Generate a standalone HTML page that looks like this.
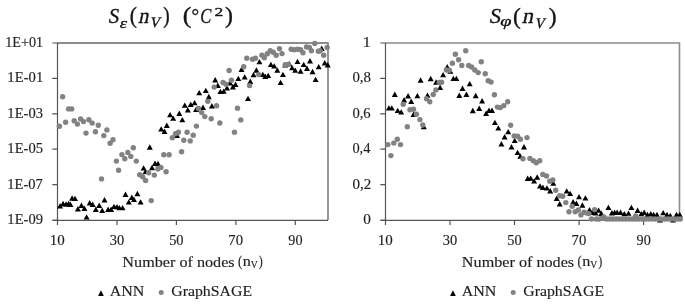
<!DOCTYPE html><html><head><meta charset="utf-8"><style>html,body{margin:0;padding:0;background:#fff;}svg{display:block}#w{filter:grayscale(1)}</style></head><body>
<div id="w"><svg width="685" height="305" viewBox="0 0 685 305" style="font-family:'Liberation Serif',serif">
<rect width="685" height="305" fill="#fff"/>
<path d="M57.5 43.0H328.0V220.0" fill="none" stroke="#8c8c8c" stroke-width="1.8"/><path d="M57.5 42.5V225.0M52.3 220.4H328.0M57.5 220.4V225.0M117.0 220.4V225.0M176.4 220.4V225.0M235.9 220.4V225.0M295.3 220.4V225.0M52.3 43.0H57.5M52.3 78.4H57.5M52.3 113.8H57.5M52.3 149.2H57.5M52.3 184.6H57.5M52.3 220.0H57.5" fill="none" stroke="#555" stroke-width="1.2"/>
<path d="M385.5 43.0H679.5V220.0" fill="none" stroke="#8c8c8c" stroke-width="1.6"/><path d="M385.5 42.5V225.0M380.3 220.4H679.5M385.5 220.4V225.0M450.0 220.4V225.0M514.5 220.4V225.0M579.1 220.4V225.0M643.6 220.4V225.0M380.3 43.0H385.5M380.3 78.4H385.5M380.3 113.8H385.5M380.3 149.2H385.5M380.3 184.6H385.5M380.3 220.0H385.5" fill="none" stroke="#555" stroke-width="1.2"/>
<text transform="translate(5.18 46.90) scale(0.977 1)" font-size="14.5" fill="#1e1e1e"  stroke="#1e1e1e" stroke-width="0.15">1E+01</text>
<text transform="translate(7.33 82.30) scale(1.014 1)" font-size="14.5" fill="#1e1e1e"  stroke="#1e1e1e" stroke-width="0.15">1E-01</text>
<text transform="translate(7.34 117.70) scale(1.006 1)" font-size="14.5" fill="#1e1e1e"  stroke="#1e1e1e" stroke-width="0.15">1E-03</text>
<text transform="translate(7.34 153.10) scale(1.006 1)" font-size="14.5" fill="#1e1e1e"  stroke="#1e1e1e" stroke-width="0.15">1E-05</text>
<text transform="translate(7.35 188.50) scale(0.999 1)" font-size="14.5" fill="#1e1e1e"  stroke="#1e1e1e" stroke-width="0.15">1E-07</text>
<text transform="translate(7.34 223.90) scale(1.006 1)" font-size="14.5" fill="#1e1e1e"  stroke="#1e1e1e" stroke-width="0.15">1E-09</text>
<text transform="translate(362.82 46.90) scale(1.105 1)" font-size="14.5" fill="#1e1e1e"  stroke="#1e1e1e" stroke-width="0.15">1</text>
<text transform="translate(352.39 82.30) scale(1.024 1)" font-size="14.5" fill="#1e1e1e"  stroke="#1e1e1e" stroke-width="0.15">0,8</text>
<text transform="translate(352.40 117.70) scale(1.009 1)" font-size="14.5" fill="#1e1e1e"  stroke="#1e1e1e" stroke-width="0.15">0,6</text>
<text transform="translate(352.40 153.10) scale(0.994 1)" font-size="14.5" fill="#1e1e1e"  stroke="#1e1e1e" stroke-width="0.15">0,4</text>
<text transform="translate(352.38 188.50) scale(1.039 1)" font-size="14.5" fill="#1e1e1e"  stroke="#1e1e1e" stroke-width="0.15">0,2</text>
<text transform="translate(363.17 223.90) scale(1.056 1)" font-size="14.5" fill="#1e1e1e"  stroke="#1e1e1e" stroke-width="0.15">0</text>
<text transform="translate(49.71 244.60) scale(1.035 1)" font-size="14.5" fill="#1e1e1e"  stroke="#1e1e1e" stroke-width="0.15">10</text>
<text transform="translate(109.70 244.60) scale(0.996 1)" font-size="14.5" fill="#1e1e1e"  stroke="#1e1e1e" stroke-width="0.15">30</text>
<text transform="translate(169.15 244.60) scale(0.996 1)" font-size="14.5" fill="#1e1e1e"  stroke="#1e1e1e" stroke-width="0.15">50</text>
<text transform="translate(228.33 244.60) scale(1.015 1)" font-size="14.5" fill="#1e1e1e"  stroke="#1e1e1e" stroke-width="0.15">70</text>
<text transform="translate(288.31 244.60) scale(0.978 1)" font-size="14.5" fill="#1e1e1e"  stroke="#1e1e1e" stroke-width="0.15">90</text>
<text transform="translate(377.71 244.60) scale(1.035 1)" font-size="14.5" fill="#1e1e1e"  stroke="#1e1e1e" stroke-width="0.15">10</text>
<text transform="translate(442.77 244.60) scale(0.996 1)" font-size="14.5" fill="#1e1e1e"  stroke="#1e1e1e" stroke-width="0.15">30</text>
<text transform="translate(507.29 244.60) scale(0.996 1)" font-size="14.5" fill="#1e1e1e"  stroke="#1e1e1e" stroke-width="0.15">50</text>
<text transform="translate(571.54 244.60) scale(1.015 1)" font-size="14.5" fill="#1e1e1e"  stroke="#1e1e1e" stroke-width="0.15">70</text>
<text transform="translate(636.59 244.60) scale(0.978 1)" font-size="14.5" fill="#1e1e1e"  stroke="#1e1e1e" stroke-width="0.15">90</text>
<text transform="translate(122.36 266.50) scale(1.079 1)" font-size="15" fill="#1e1e1e"  stroke="#1e1e1e" stroke-width="0.15">Number of nodes</text>
<text transform="translate(237.96 266.35) scale(0.853 1)" font-size="15" fill="#1e1e1e"  stroke="#1e1e1e" stroke-width="0.15">(</text>
<text transform="translate(242.84 266.40) scale(1.048 1)" font-size="15.5" fill="#1e1e1e"  stroke="#1e1e1e" stroke-width="0.15">n</text>
<text transform="translate(250.75 268.10) scale(1.015 1)" font-size="9.5" fill="#1e1e1e"  stroke="#1e1e1e" stroke-width="0.15">V</text>
<text transform="translate(258.80 266.35) scale(0.800 1)" font-size="15" fill="#1e1e1e"  stroke="#1e1e1e" stroke-width="0.15">)</text>
<text transform="translate(461.86 266.50) scale(1.079 1)" font-size="15" fill="#1e1e1e"  stroke="#1e1e1e" stroke-width="0.15">Number of nodes</text>
<text transform="translate(577.46 266.35) scale(0.853 1)" font-size="15" fill="#1e1e1e"  stroke="#1e1e1e" stroke-width="0.15">(</text>
<text transform="translate(582.34 266.40) scale(1.048 1)" font-size="15.5" fill="#1e1e1e"  stroke="#1e1e1e" stroke-width="0.15">n</text>
<text transform="translate(590.25 268.10) scale(1.015 1)" font-size="9.5" fill="#1e1e1e"  stroke="#1e1e1e" stroke-width="0.15">V</text>
<text transform="translate(598.30 266.35) scale(0.800 1)" font-size="15" fill="#1e1e1e"  stroke="#1e1e1e" stroke-width="0.15">)</text>
<text transform="translate(109.63 296.40) scale(1.066 1)" font-size="15" fill="#1e1e1e"  stroke="#1e1e1e" stroke-width="0.15">ANN</text>
<text transform="translate(171.27 296.40) scale(1.054 1)" font-size="15" fill="#1e1e1e"  stroke="#1e1e1e" stroke-width="0.15">GraphSAGE</text>
<text transform="translate(461.63 296.40) scale(1.066 1)" font-size="15" fill="#1e1e1e"  stroke="#1e1e1e" stroke-width="0.15">ANN</text>
<text transform="translate(523.27 296.40) scale(1.054 1)" font-size="15" fill="#1e1e1e"  stroke="#1e1e1e" stroke-width="0.15">GraphSAGE</text>
<text transform="translate(108.86 22.70) scale(0.970 1)" font-size="21.5" font-style="italic" fill="#141414"  stroke="#141414" stroke-width="0.35">S</text>
<text transform="translate(119.87 27.50) scale(1.314 1)" font-size="14" font-style="italic" fill="#141414"  stroke="#141414" stroke-width="0.35">ε</text>
<text transform="translate(129.78 23.30) scale(0.917 1)" font-size="23.5" fill="#141414"  stroke="#141414" stroke-width="0.35">(</text>
<text transform="translate(137.93 23.00) skewX(-12) scale(0.939 1)" font-size="22" fill="#141414"  stroke="#141414" stroke-width="0.35">n</text>
<text transform="translate(149.46 27.30) skewX(-12) scale(0.978 1)" font-size="14.5" fill="#141414"  stroke="#141414" stroke-width="0.35">V</text>
<text transform="translate(163.29 23.30) scale(0.817 1)" font-size="23.5" fill="#141414"  stroke="#141414" stroke-width="0.35">)</text>
<text transform="translate(182.70 23.30) scale(1.100 1)" font-size="23.5" fill="#141414"  stroke="#141414" stroke-width="0.35">(</text>
<text transform="translate(191.53 22.45) scale(0.974 1)" font-size="19.5" fill="#141414"  stroke="#141414" stroke-width="0.35">°</text>
<text transform="translate(200.20 23.00) scale(0.800 1)" font-size="20.7" font-style="italic" fill="#141414"  stroke="#141414" stroke-width="0.35">C</text>
<text transform="translate(214.57 16.00) scale(1.453 1)" font-size="12" fill="#141414"  stroke="#141414" stroke-width="0.35">2</text>
<text transform="translate(224.94 23.30) scale(1.017 1)" font-size="23.5" fill="#141414"  stroke="#141414" stroke-width="0.35">)</text>
<text transform="translate(489.64 23.05) scale(1.040 1)" font-size="21.5" font-style="italic" fill="#141414"  stroke="#141414" stroke-width="0.35">S</text>
<text transform="translate(500.17 25.96) scale(1.452 1)" font-size="14" font-style="italic" fill="#141414"  stroke="#141414" stroke-width="0.35">φ</text>
<text transform="translate(513.00 23.60) scale(1.000 1)" font-size="23.5" fill="#141414"  stroke="#141414" stroke-width="0.35">(</text>
<text transform="translate(521.69 23.20) skewX(-12) scale(1.017 1)" font-size="22" fill="#141414"  stroke="#141414" stroke-width="0.35">n</text>
<text transform="translate(534.56 27.50) skewX(-12) scale(0.948 1)" font-size="14.5" fill="#141414"  stroke="#141414" stroke-width="0.35">V</text>
<text transform="translate(548.85 23.60) scale(1.000 1)" font-size="23.5" fill="#141414"  stroke="#141414" stroke-width="0.35">)</text>
<path d="M100.95 290.3L103.8 296L98.1 296Z" fill="#000"/>
<circle cx="161.2" cy="292.6" r="2.5" fill="#828282"/>
<path d="M452.95 290.3L455.8 296L450.1 296Z" fill="#000"/>
<circle cx="513.2" cy="292.6" r="2.5" fill="#828282"/>
<g fill="#000"><path d="M60.1 203.0L63.1 208.4L57.1 208.4ZM63.1 200.8L66.1 206.2L60.1 206.2ZM66.1 201.3L69.1 206.7L63.1 206.7ZM68.6 200.8L71.6 206.2L65.6 206.2ZM70.4 201.5L73.4 206.9L67.4 206.9ZM72.1 195.3L75.1 200.7L69.1 200.7ZM75.0 195.7L78.0 201.1L72.0 201.1ZM77.9 206.0L80.9 211.4L74.9 211.4ZM81.4 202.5L84.4 207.9L78.4 207.9ZM84.4 205.5L87.4 210.9L81.4 210.9ZM86.6 214.2L89.6 219.6L83.6 219.6ZM89.7 200.1L92.7 205.5L86.7 205.5ZM92.7 201.5L95.7 206.9L89.7 206.9ZM95.8 206.5L98.8 211.9L92.8 211.9ZM99.2 202.5L102.2 207.9L96.2 207.9ZM102.2 207.5L105.2 212.9L99.2 212.9ZM104.5 197.1L107.5 202.5L101.5 202.5ZM108.1 206.5L111.1 211.9L105.1 211.9ZM111.1 206.5L114.1 211.9L108.1 211.9ZM114.0 203.7L117.0 209.1L111.0 209.1ZM117.0 203.9L120.0 209.3L114.0 209.3ZM119.4 204.9L122.4 210.3L116.4 210.3ZM122.6 204.9L125.6 210.3L119.6 210.3ZM125.5 191.6L128.5 197.0L122.5 197.0ZM128.8 199.2L131.8 204.6L125.8 204.6ZM131.8 194.6L134.8 200.0L128.8 200.0ZM134.0 196.7L137.0 202.1L131.0 202.1ZM137.4 190.8L140.4 196.2L134.4 196.2ZM140.6 199.2L143.6 204.6L137.6 204.6ZM143.6 165.2L146.6 170.6L140.6 170.6ZM145.6 168.7L148.6 174.1L142.6 174.1ZM149.8 144.3L152.8 149.7L146.8 149.7ZM152.0 164.8L155.0 170.2L149.0 170.2ZM155.0 160.5L158.0 165.9L152.0 165.9ZM158.0 160.8L161.0 166.2L155.0 166.2ZM161.2 126.2L164.2 131.6L158.2 131.6ZM164.5 128.6L167.5 134.0L161.5 134.0ZM166.8 122.5L169.8 127.9L163.8 127.9ZM170.1 111.9L173.1 117.3L167.1 117.3ZM173.2 115.4L176.2 120.8L170.2 120.8ZM177.0 132.5L180.0 137.9L174.0 137.9ZM179.3 110.5L182.3 115.9L176.3 115.9ZM182.3 116.9L185.3 122.3L179.3 122.3ZM184.8 102.4L187.8 107.8L181.8 107.8ZM187.8 107.1L190.8 112.5L184.8 112.5ZM190.7 101.5L193.7 106.9L187.7 106.9ZM194.6 99.9L197.6 105.3L191.6 105.3ZM196.1 106.6L199.1 112.0L193.1 112.0ZM199.2 89.9L202.2 95.3L196.2 95.3ZM203.0 104.6L206.0 110.0L200.0 110.0ZM205.8 87.7L208.8 93.1L202.8 93.1ZM208.8 93.8L211.8 99.2L205.8 99.2ZM211.9 103.1L214.9 108.5L208.9 108.5ZM215.2 77.1L218.2 82.5L212.2 82.5ZM217.8 82.5L220.8 87.9L214.8 87.9ZM220.4 88.7L223.4 94.1L217.4 94.1ZM223.7 88.4L226.7 93.8L220.7 93.8ZM227.0 85.0L230.0 90.4L224.0 90.4ZM229.9 80.1L232.9 85.5L226.9 85.5ZM232.9 84.0L235.9 89.4L229.9 89.4ZM235.5 81.6L238.5 87.0L232.5 87.0ZM238.3 75.7L241.3 81.1L235.3 81.1ZM241.5 66.6L244.5 72.0L238.5 72.0ZM244.7 74.2L247.7 79.6L241.7 79.6ZM248.0 95.7L251.0 101.1L245.0 101.1ZM250.3 78.6L253.3 84.0L247.3 84.0ZM253.5 71.9L256.5 77.3L250.5 77.3ZM256.4 67.3L259.4 72.7L253.4 72.7ZM259.4 58.9L262.4 64.3L256.4 64.3ZM262.8 71.7L265.8 77.1L259.8 77.1ZM265.2 73.6L268.2 79.0L262.2 79.0ZM268.2 72.7L271.2 78.1L265.2 78.1ZM270.9 61.7L273.9 67.1L267.9 67.1ZM274.2 63.2L277.2 68.6L271.2 68.6ZM277.3 67.3L280.3 72.7L274.3 72.7ZM280.6 79.7L283.6 85.1L277.6 85.1ZM282.9 71.7L285.9 77.1L279.9 77.1ZM289.3 60.9L292.3 66.3L286.3 66.3ZM285.2 62.2L288.2 67.6L282.2 67.6ZM292.1 64.9L295.1 70.3L289.1 70.3ZM295.2 67.4L298.2 72.8L292.2 72.8ZM297.5 58.7L300.5 64.1L294.5 64.1ZM300.6 68.3L303.6 73.7L297.6 73.7ZM303.7 61.7L306.7 67.1L300.7 67.1ZM307.0 65.6L310.0 71.0L304.0 71.0ZM310.0 58.1L313.0 63.5L307.0 63.5ZM312.5 68.8L315.5 74.2L309.5 74.2ZM315.6 76.7L318.6 82.1L312.6 82.1ZM318.7 63.9L321.7 69.3L315.7 69.3ZM321.7 45.5L324.7 50.9L318.7 50.9ZM324.8 60.1L327.8 65.5L321.8 65.5ZM327.8 62.1L330.8 67.5L324.8 67.5Z"/><path d="M388.9 105.2L391.9 110.6L385.9 110.6ZM391.8 105.2L394.8 110.6L388.8 110.6ZM394.8 91.6L397.8 97.0L391.8 97.0ZM397.7 107.7L400.7 113.1L394.7 113.1ZM401.2 109.2L404.2 114.6L398.2 114.6ZM404.1 97.0L407.1 102.4L401.1 102.4ZM408.1 93.0L411.1 98.4L405.1 98.4ZM411.2 98.6L414.2 104.0L408.2 104.0ZM413.5 111.6L416.5 117.0L410.5 117.0ZM417.4 92.9L420.4 98.3L414.4 98.3ZM420.6 77.3L423.6 82.7L417.6 82.7ZM423.8 123.8L426.8 129.2L420.8 129.2ZM427.5 92.4L430.5 97.8L424.5 97.8ZM430.7 75.8L433.7 81.2L427.7 81.2ZM436.1 79.3L439.1 84.7L433.1 84.7ZM440.1 84.6L443.1 90.0L437.1 90.0ZM443.1 71.9L446.1 77.3L440.1 77.3ZM447.2 64.1L450.2 69.5L444.2 69.5ZM450.3 68.3L453.3 73.7L447.3 73.7ZM453.4 75.7L456.4 81.1L450.4 81.1ZM456.4 75.7L459.4 81.1L453.4 81.1ZM459.3 92.6L462.3 98.0L456.3 98.0ZM462.5 85.6L465.5 91.0L459.5 91.0ZM466.4 91.5L469.4 96.9L463.4 96.9ZM469.7 80.9L472.7 86.3L466.7 86.3ZM472.8 107.8L475.8 113.2L469.8 113.2ZM475.7 92.8L478.7 98.2L472.7 98.2ZM479.2 105.5L482.2 110.9L476.2 110.9ZM482.1 98.1L485.1 103.5L479.1 103.5ZM486.1 110.6L489.1 116.0L483.1 116.0ZM489.0 107.5L492.0 112.9L486.0 112.9ZM492.0 107.5L495.0 112.9L489.0 112.9ZM494.9 119.7L497.9 125.1L491.9 125.1ZM498.3 125.2L501.3 130.6L495.3 130.6ZM501.4 141.1L504.4 146.5L498.4 146.5ZM504.6 134.0L507.6 139.4L501.6 139.4ZM508.2 128.9L511.2 134.3L505.2 134.3ZM511.5 144.1L514.5 149.5L508.5 149.5ZM514.7 137.7L517.7 143.1L511.7 143.1ZM517.6 149.7L520.6 155.1L514.6 155.1ZM520.3 153.3L523.3 158.7L517.3 158.7ZM524.0 144.1L527.0 149.5L521.0 149.5ZM527.7 175.6L530.7 181.0L524.7 181.0ZM530.7 175.4L533.7 180.8L527.7 180.8ZM534.1 178.2L537.1 183.6L531.1 183.6ZM537.2 174.3L540.2 179.7L534.2 179.7ZM540.0 183.2L543.0 188.6L537.0 188.6ZM542.9 184.6L545.9 190.0L539.9 190.0ZM546.9 185.2L549.9 190.6L543.9 190.6ZM550.2 188.1L553.2 193.5L547.2 193.5ZM553.3 180.4L556.3 185.8L550.3 185.8ZM556.7 195.5L559.7 200.9L553.7 200.9ZM559.7 201.0L562.7 206.4L556.7 206.4ZM566.7 188.2L569.7 193.6L563.7 193.6ZM570.1 190.7L573.1 196.1L567.1 196.1ZM573.1 199.0L576.1 204.4L570.1 204.4ZM576.4 200.6L579.4 206.0L573.4 206.0ZM579.0 193.9L582.0 199.3L576.0 199.3ZM582.4 202.3L585.4 207.7L579.4 207.7ZM585.4 195.2L588.4 200.6L582.4 200.6ZM589.5 206.9L592.5 212.3L586.5 212.3ZM592.4 209.6L595.4 215.0L589.4 215.0ZM595.5 210.0L598.5 215.4L592.5 215.4ZM598.6 207.4L601.6 212.8L595.6 212.8ZM601.3 210.5L604.3 215.9L598.3 215.9ZM608.4 204.7L611.4 210.1L605.4 210.1ZM611.9 210.0L614.9 215.4L608.9 215.4ZM614.6 209.6L617.6 215.0L611.6 215.0ZM617.2 209.6L620.2 215.0L614.2 215.0ZM620.6 209.6L623.6 215.0L617.6 215.0ZM624.3 210.9L627.3 216.3L621.3 216.3ZM628.5 210.4L631.5 215.8L625.5 215.8ZM631.4 204.7L634.4 210.1L628.4 210.1ZM637.6 207.6L640.6 213.0L634.6 213.0ZM641.3 210.9L644.3 216.3L638.3 216.3ZM644.2 209.5L647.2 214.9L641.2 214.9ZM647.5 211.8L650.5 217.2L644.5 217.2ZM650.8 210.9L653.8 216.3L647.8 216.3ZM653.7 211.8L656.7 217.2L650.7 217.2ZM657.0 211.8L660.0 217.2L654.0 217.2ZM663.2 209.9L666.2 215.3L660.2 215.3ZM667.0 211.8L670.0 217.2L664.0 217.2ZM670.3 212.8L673.3 218.2L667.3 218.2ZM676.5 211.8L679.5 217.2L673.5 217.2ZM679.8 211.8L682.8 217.2L676.8 217.2ZM660.0 217.1L663.0 222.5L657.0 222.5ZM673.0 217.1L676.0 222.5L670.0 222.5Z"/></g>
<g fill="#828282"><circle cx="59.4" cy="126.3" r="2.7"/><circle cx="62.6" cy="96.7" r="2.7"/><circle cx="65.6" cy="122.3" r="2.7"/><circle cx="68.6" cy="108.9" r="2.7"/><circle cx="71.7" cy="108.9" r="2.7"/><circle cx="74.2" cy="120.7" r="2.7"/><circle cx="77.4" cy="124.1" r="2.7"/><circle cx="80.6" cy="118.9" r="2.7"/><circle cx="83.5" cy="121.6" r="2.7"/><circle cx="86.0" cy="133.1" r="2.7"/><circle cx="88.9" cy="119.7" r="2.7"/><circle cx="92.2" cy="123.1" r="2.7"/><circle cx="95.4" cy="131.7" r="2.7"/><circle cx="98.3" cy="125.3" r="2.7"/><circle cx="101.5" cy="178.9" r="2.7"/><circle cx="103.8" cy="135.6" r="2.7"/><circle cx="106.9" cy="129.9" r="2.7"/><circle cx="110.1" cy="143.3" r="2.7"/><circle cx="113.0" cy="139.8" r="2.7"/><circle cx="116.4" cy="161.1" r="2.7"/><circle cx="118.6" cy="170.2" r="2.7"/><circle cx="121.9" cy="154.6" r="2.7"/><circle cx="124.8" cy="158.8" r="2.7"/><circle cx="127.9" cy="152.4" r="2.7"/><circle cx="130.8" cy="156.4" r="2.7"/><circle cx="133.3" cy="147.8" r="2.7"/><circle cx="136.3" cy="161.1" r="2.7"/><circle cx="139.7" cy="174.8" r="2.7"/><circle cx="142.7" cy="176.7" r="2.7"/><circle cx="145.6" cy="180.5" r="2.7"/><circle cx="148.6" cy="172.8" r="2.7"/><circle cx="151.2" cy="200.6" r="2.7"/><circle cx="154.3" cy="175.1" r="2.7"/><circle cx="157.9" cy="168.9" r="2.7"/><circle cx="160.9" cy="167.4" r="2.7"/><circle cx="163.8" cy="154.7" r="2.7"/><circle cx="166.1" cy="171.8" r="2.7"/><circle cx="169.1" cy="154.7" r="2.7"/><circle cx="172.3" cy="137.8" r="2.7"/><circle cx="175.5" cy="133.7" r="2.7"/><circle cx="178.4" cy="132.2" r="2.7"/><circle cx="181.6" cy="151.7" r="2.7"/><circle cx="183.8" cy="140.3" r="2.7"/><circle cx="187.1" cy="132.2" r="2.7"/><circle cx="190.2" cy="140.9" r="2.7"/><circle cx="193.2" cy="135.2" r="2.7"/><circle cx="196.4" cy="126.1" r="2.7"/><circle cx="198.5" cy="108.5" r="2.7"/><circle cx="201.7" cy="112.6" r="2.7"/><circle cx="204.8" cy="116.6" r="2.7"/><circle cx="207.8" cy="101.3" r="2.7"/><circle cx="211.2" cy="118.8" r="2.7"/><circle cx="214.2" cy="87.1" r="2.7"/><circle cx="216.6" cy="105.7" r="2.7"/><circle cx="219.8" cy="123.0" r="2.7"/><circle cx="223.0" cy="82.5" r="2.7"/><circle cx="226.0" cy="84.2" r="2.7"/><circle cx="229.1" cy="70.5" r="2.7"/><circle cx="231.4" cy="80.2" r="2.7"/><circle cx="234.5" cy="132.3" r="2.7"/><circle cx="237.5" cy="108.3" r="2.7"/><circle cx="240.8" cy="119.9" r="2.7"/><circle cx="243.7" cy="66.8" r="2.7"/><circle cx="246.8" cy="58.2" r="2.7"/><circle cx="249.6" cy="85.6" r="2.7"/><circle cx="252.5" cy="59.2" r="2.7"/><circle cx="255.5" cy="58.2" r="2.7"/><circle cx="258.8" cy="74.6" r="2.7"/><circle cx="261.9" cy="55.2" r="2.7"/><circle cx="264.3" cy="57.7" r="2.7"/><circle cx="267.3" cy="53.8" r="2.7"/><circle cx="270.2" cy="50.8" r="2.7"/><circle cx="273.2" cy="52.3" r="2.7"/><circle cx="276.2" cy="55.2" r="2.7"/><circle cx="279.5" cy="48.8" r="2.7"/><circle cx="282.0" cy="53.6" r="2.7"/><circle cx="285.2" cy="64.6" r="2.7"/><circle cx="288.2" cy="64.4" r="2.7"/><circle cx="291.2" cy="49.3" r="2.7"/><circle cx="294.2" cy="49.8" r="2.7"/><circle cx="297.6" cy="49.3" r="2.7"/><circle cx="300.6" cy="49.8" r="2.7"/><circle cx="303.0" cy="52.8" r="2.7"/><circle cx="306.5" cy="46.9" r="2.7"/><circle cx="309.4" cy="47.4" r="2.7"/><circle cx="311.4" cy="50.8" r="2.7"/><circle cx="314.8" cy="43.4" r="2.7"/><circle cx="318.3" cy="51.3" r="2.7"/><circle cx="320.2" cy="50.8" r="2.7"/><circle cx="323.7" cy="55.2" r="2.7"/><circle cx="327.1" cy="47.4" r="2.7"/><circle cx="387.9" cy="144.6" r="2.7"/><circle cx="390.9" cy="155.6" r="2.7"/><circle cx="393.8" cy="143.1" r="2.7"/><circle cx="397.3" cy="139.2" r="2.7"/><circle cx="400.5" cy="144.6" r="2.7"/><circle cx="403.2" cy="104.2" r="2.7"/><circle cx="407.3" cy="126.7" r="2.7"/><circle cx="410.0" cy="109.8" r="2.7"/><circle cx="413.5" cy="109.3" r="2.7"/><circle cx="416.4" cy="114.2" r="2.7"/><circle cx="419.9" cy="119.6" r="2.7"/><circle cx="422.8" cy="125.0" r="2.7"/><circle cx="426.5" cy="98.8" r="2.7"/><circle cx="429.8" cy="101.7" r="2.7"/><circle cx="433.2" cy="94.5" r="2.7"/><circle cx="435.9" cy="89.9" r="2.7"/><circle cx="439.3" cy="82.5" r="2.7"/><circle cx="441.6" cy="82.3" r="2.7"/><circle cx="446.4" cy="70.0" r="2.7"/><circle cx="449.3" cy="70.2" r="2.7"/><circle cx="452.4" cy="63.2" r="2.7"/><circle cx="455.4" cy="54.3" r="2.7"/><circle cx="458.6" cy="59.7" r="2.7"/><circle cx="461.8" cy="65.5" r="2.7"/><circle cx="465.7" cy="50.7" r="2.7"/><circle cx="468.7" cy="65.5" r="2.7"/><circle cx="471.6" cy="67.0" r="2.7"/><circle cx="474.8" cy="70.0" r="2.7"/><circle cx="478.2" cy="72.6" r="2.7"/><circle cx="481.3" cy="61.7" r="2.7"/><circle cx="485.2" cy="73.7" r="2.7"/><circle cx="488.2" cy="80.8" r="2.7"/><circle cx="491.1" cy="82.1" r="2.7"/><circle cx="494.4" cy="94.8" r="2.7"/><circle cx="497.4" cy="107.1" r="2.7"/><circle cx="500.3" cy="107.6" r="2.7"/><circle cx="503.8" cy="105.6" r="2.7"/><circle cx="507.7" cy="101.7" r="2.7"/><circle cx="510.6" cy="125.2" r="2.7"/><circle cx="514.2" cy="136.0" r="2.7"/><circle cx="517.6" cy="136.3" r="2.7"/><circle cx="520.4" cy="139.3" r="2.7"/><circle cx="523.0" cy="158.8" r="2.7"/><circle cx="527.0" cy="137.6" r="2.7"/><circle cx="529.9" cy="158.4" r="2.7"/><circle cx="533.3" cy="160.8" r="2.7"/><circle cx="536.3" cy="162.8" r="2.7"/><circle cx="539.7" cy="160.8" r="2.7"/><circle cx="542.8" cy="174.4" r="2.7"/><circle cx="546.5" cy="176.0" r="2.7"/><circle cx="549.8" cy="181.3" r="2.7"/><circle cx="552.8" cy="179.9" r="2.7"/><circle cx="555.7" cy="190.3" r="2.7"/><circle cx="559.7" cy="195.7" r="2.7"/><circle cx="562.7" cy="196.2" r="2.7"/><circle cx="565.8" cy="202.6" r="2.7"/><circle cx="569.0" cy="211.8" r="2.7"/><circle cx="572.2" cy="206.3" r="2.7"/><circle cx="575.2" cy="211.8" r="2.7"/><circle cx="578.3" cy="210.0" r="2.7"/><circle cx="580.9" cy="214.9" r="2.7"/><circle cx="584.0" cy="212.3" r="2.7"/><circle cx="586.7" cy="213.1" r="2.7"/><circle cx="588.9" cy="213.6" r="2.7"/><circle cx="591.5" cy="219.0" r="2.7"/><circle cx="594.6" cy="209.6" r="2.7"/><circle cx="596.4" cy="219.0" r="2.7"/><circle cx="599.1" cy="219.0" r="2.7"/><circle cx="601.7" cy="218.4" r="2.7"/><circle cx="603.9" cy="217.0" r="2.7"/><circle cx="606.6" cy="219.0" r="2.7"/><circle cx="609.8" cy="219.0" r="2.7"/><circle cx="613.0" cy="219.0" r="2.7"/><circle cx="616.3" cy="219.0" r="2.7"/><circle cx="619.5" cy="219.0" r="2.7"/><circle cx="622.7" cy="219.0" r="2.7"/><circle cx="625.9" cy="219.0" r="2.7"/><circle cx="629.2" cy="219.0" r="2.7"/><circle cx="632.4" cy="219.0" r="2.7"/><circle cx="635.6" cy="216.0" r="2.7"/><circle cx="638.8" cy="219.0" r="2.7"/><circle cx="642.1" cy="219.0" r="2.7"/><circle cx="645.3" cy="219.0" r="2.7"/><circle cx="648.5" cy="219.0" r="2.7"/><circle cx="651.7" cy="219.0" r="2.7"/><circle cx="655.0" cy="219.0" r="2.7"/><circle cx="658.2" cy="219.0" r="2.7"/><circle cx="661.4" cy="219.0" r="2.7"/><circle cx="664.6" cy="219.0" r="2.7"/><circle cx="667.9" cy="219.0" r="2.7"/><circle cx="671.1" cy="219.0" r="2.7"/><circle cx="674.3" cy="219.0" r="2.7"/><circle cx="677.5" cy="219.0" r="2.7"/><circle cx="635.6" cy="219.0" r="2.7"/><circle cx="680.3" cy="219.0" r="2.7"/></g>
</svg></div></body></html>
